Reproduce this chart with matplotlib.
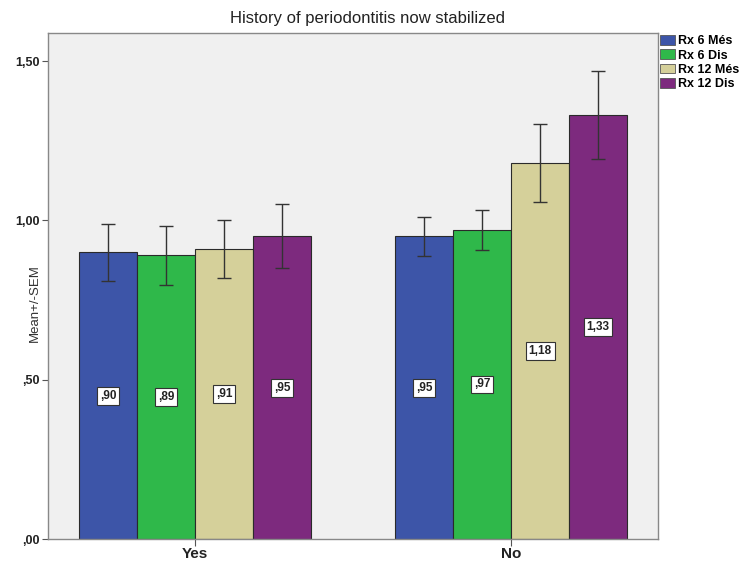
import matplotlib
matplotlib.use("Agg")
import matplotlib.pyplot as plt
import numpy as np
from matplotlib.patches import Patch

plt.rcParams['font.family'] = ['Liberation Sans', 'DejaVu Sans']

categories = ["Yes", "No"]
series_names = ["Rx 6 Més", "Rx 6 Dis", "Rx 12 Més", "Rx 12 Dis"]
means = {
    "Rx 6 Més": [0.90, 0.95],
    "Rx 6 Dis": [0.89, 0.97],
    "Rx 12 Més": [0.91, 1.18],
    "Rx 12 Dis": [0.95, 1.33],
}
sems = {
    "Rx 6 Més": [0.089, 0.062],
    "Rx 6 Dis": [0.092, 0.064],
    "Rx 12 Més": [0.092, 0.123],
    "Rx 12 Dis": [0.101, 0.138],
}
labels = {
    "Rx 6 Més": [",90", ",95"],
    "Rx 6 Dis": [",89", ",97"],
    "Rx 12 Més": [",91", "1,18"],
    "Rx 12 Dis": [",95", "1,33"],
}
yticks = [0.0, 0.5, 1.0, 1.5]
ytick_labels = [",00", ",50", "1,00", "1,50"]
colors = ["#3d55a8", "#2fb84a", "#d5d09a", "#7d2a7e"]

W, H = 746, 561
L, R, T, B = 48, 658, 33, 539
fig = plt.figure(figsize=(W / 100, H / 100), dpi=100)
ax = fig.add_axes([L / W, 1 - B / H, (R - L) / W, (B - T) / H])
ax.set_facecolor("#f0f0f0")

x = np.arange(len(categories))
w = 0.1835
offsets = (np.arange(4) - 1.5) * w
for i, name in enumerate(series_names):
    xs = x + offsets[i]
    ax.bar(xs, means[name], width=w, color=colors[i], edgecolor="#2a2a2a",
           linewidth=0.8, zorder=2)
    ax.errorbar(xs, means[name], yerr=sems[name], fmt="none", ecolor="#333333",
                elinewidth=1.0, capsize=5, capthick=1.0, zorder=3)
    for xi, m, lab in zip(xs, means[name], labels[name]):
        ax.text(xi, m / 2, lab, ha="center", va="center", fontsize=8.5,
                fontweight="bold", color="#222222", zorder=4,
                bbox=dict(boxstyle="square,pad=0.25", fc="white", ec="#333333", lw=0.8))

ax.set_xlim(-0.465, 1.465)
ax.set_ylim(0, 1.588)
ax.set_xticks(x)
ax.set_xticklabels(categories, fontsize=11, fontweight="bold", color="#222222")
ax.set_yticks(yticks)
ax.set_yticklabels(ytick_labels, fontsize=9, fontweight="bold", color="#222222")
ax.tick_params(axis="y", direction="out", length=4, width=0.8, color="#555555", pad=2)
ax.tick_params(axis="x", direction="out", length=5, width=0.8, color="#555555", pad=1)
for s in ax.spines.values():
    s.set_color("#888888")
    s.set_linewidth(1.0)
ax.set_ylabel("Mean+/-SEM", fontsize=9.5, color="#333333")
ax.yaxis.set_label_coords((41 - L) / (R - L), (B - 303) / (B - T))

fig.text(368 / W, 1 - 19 / H, "History of periodontitis now stabilized", ha="center",
         va="center", fontsize=12, color="#222222")

handles = [Patch(facecolor=c, edgecolor="#555555", linewidth=0.6) for c in colors]
fig.legend(handles, series_names, loc="upper left", bbox_to_anchor=(660 / W, 1 - 35 / H),
           frameon=False, prop={"weight": "bold", "size": 9},
           handlelength=1.2, handleheight=0.84, handletextpad=0.25, labelspacing=0.16,
           borderaxespad=0, borderpad=0.0)

fig.savefig("out.png", dpi=100)
